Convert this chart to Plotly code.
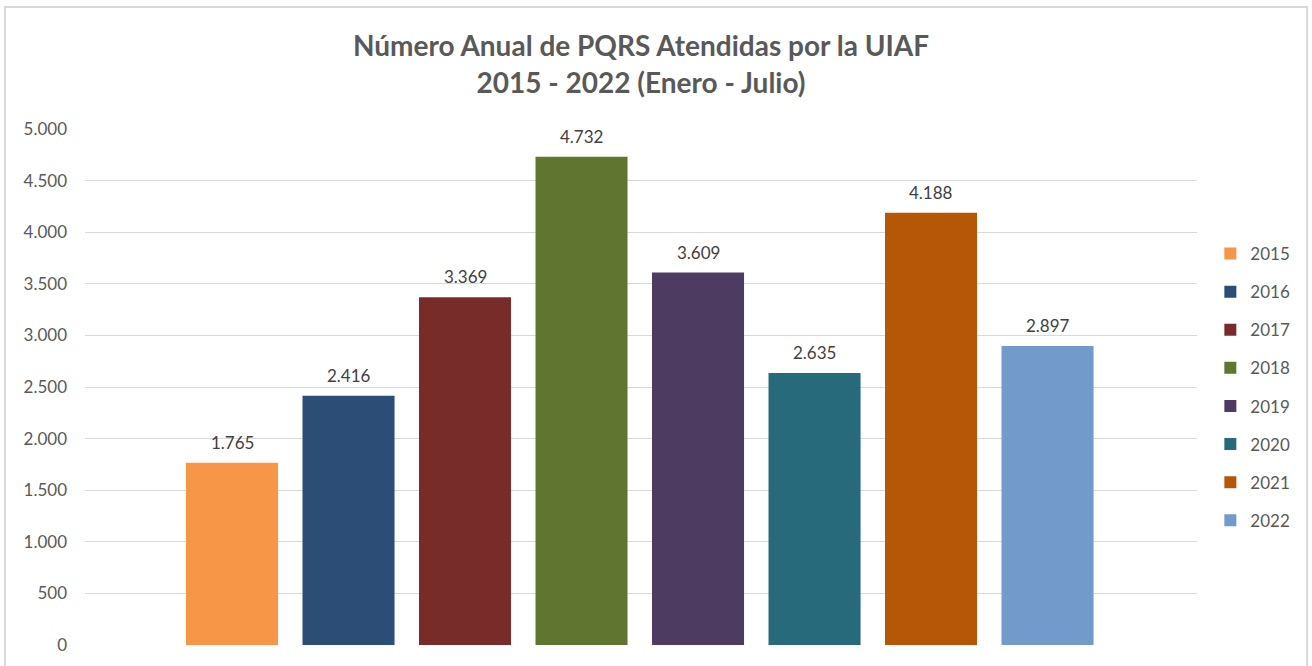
import plotly.graph_objects as go

years = ["2015", "2016", "2017", "2018", "2019", "2020", "2021", "2022"]
values = [1765, 2416, 3369, 4732, 3609, 2635, 4188, 2897]
colors = ["#F79646", "#2C4D75", "#772C2A", "#5F7530", "#4D3B62", "#276A7C", "#B65708", "#729ACA"]
y_ticks = [0, 500, 1000, 1500, 2000, 2500, 3000, 3500, 4000, 4500, 5000]

FONT = "Lato"
fig = go.Figure()
for i, (yr, v, c) in enumerate(zip(years, values, colors)):
    fig.add_trace(go.Bar(
        x=[yr], y=[v], name=yr, marker=dict(color=c, line=dict(width=0)),
        width=0.79, legendgroup=yr, hoverinfo="y",
    ))
    fig.add_annotation(
        x=i, y=v, text=f"{v:,}".replace(",", "."), showarrow=False,
        xref="x", yref="y",
        yanchor="bottom", yshift=8, font=dict(family=FONT, size=17, color="#404040"),
    )

fig.update_layout(
    width=1312, height=666,
    paper_bgcolor="white", plot_bgcolor="white",
    margin=dict(l=85, r=115, t=129, b=21),
    barmode="overlay",
    separators=",.",
    title=dict(
        text="<b>Número Anual de PQRS Atendidas por la UIAF<br>2015 - 2022 (Enero - Julio)</b>",
        x=0.5, xanchor="center", xref="paper", y=0.9155, yanchor="middle",
        font=dict(family=FONT, size=28, color="#595959"),
    ),
    font=dict(family=FONT, size=16, color="#595959"),
    xaxis=dict(
        type="category",
        categoryorder="array", categoryarray=years,
        range=[-1.262, 8.283], showticklabels=False, showgrid=False,
        zeroline=False, showline=False, ticks="",
    ),
    yaxis=dict(
        range=[0, 5000], tickvals=y_ticks, tickformat=",d",
        showgrid=True, gridcolor="#D9D9D9", gridwidth=1,
        zeroline=False, showline=False, ticks="", ticklen=0,
        ticklabelstandoff=17,
        tickfont=dict(family=FONT, size=17, color="#595959"),
        automargin=False,
    ),
    legend=dict(
        x=1.012, xanchor="left", y=0.5, yanchor="middle",
        font=dict(family=FONT, size=17, color="#595959"),
        tracegroupgap=13, itemwidth=30, bgcolor="rgba(0,0,0,0)",
    ),
    showlegend=True,
)

fig.add_shape(
    type="rect", xref="paper", yref="paper",
    x0=-0.0719, x1=1.099, y0=-0.2, y1=1.2364,
    line=dict(color="#D9D9D9", width=2), fillcolor="rgba(0,0,0,0)", layer="below",
)

fig.write_html("out.html", config={"displayModeBar": False},
               post_script="document.body.style.margin='0';")
